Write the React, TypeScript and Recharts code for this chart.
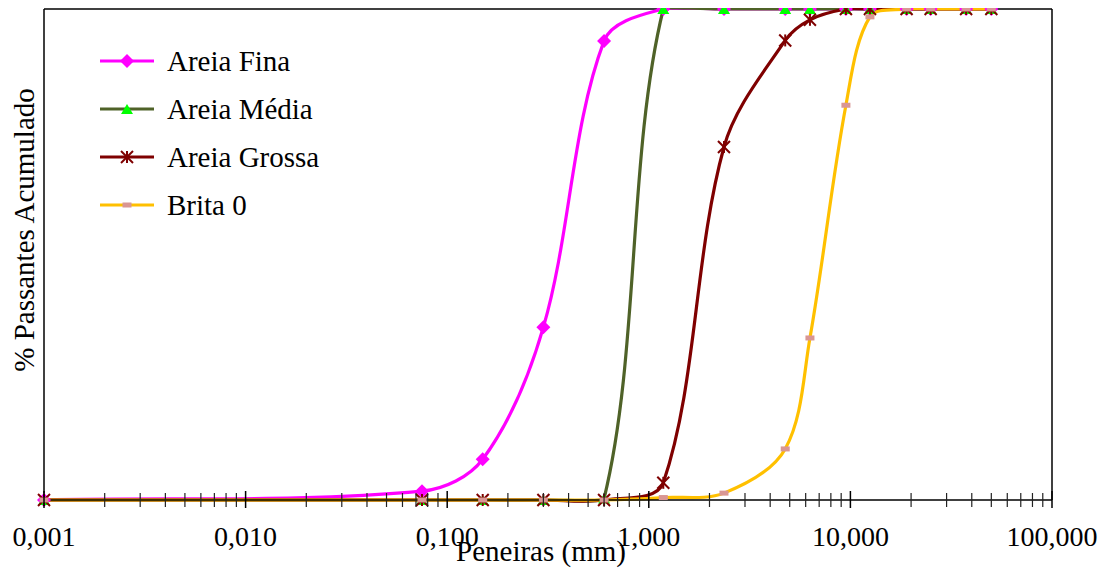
import { Label, Legend, Line, LineChart, ReferenceLine, XAxis, YAxis } from "recharts"

// abertura das peneiras (mm)
const sieves = [0.001, 0.075, 0.15, 0.3, 0.6, 1.18, 2.36, 4.75, 6.3, 9.5, 12.5, 19, 25, 37.5, 50]

// % passante acumulado em cada peneira
const areiaFina = [0, 1.8, 8.3, 35.2, 93.5, 100, 100, 100, 100, 100, 100, 100, 100, 100, 100]
const areiaMedia = [0, 0, 0, 0, 0.3, 100, 100, 100, 100, 100, 100, 100, 100, 100, 100]
const areiaGrossa = [0, 0, 0, 0, 0, 3.5, 71.9, 93.6, 97.8, 100, 100, 100, 100, 100, 100]
const brita0 = [0, 0, 0, 0, 0, 0.5, 1.4, 10.4, 33, 80.4, 98.4, 100, 100, 100, 100]

const majorTicks = [0.001, 0.01, 0.1, 1, 10, 100]
const majorTickLabels = ["0,001", "0,010", "0,100", "1,000", "10,000", "100,000"]
const minorSteps = [2, 3, 4, 5, 6, 7, 8, 9]

const FONT = "Liberation Serif, DejaVu Serif, serif"
const textStyle = { fontFamily: FONT }

const data = sieves.map((sieve, i) => ({
  sieve,
  fina: areiaFina[i],
  media: areiaMedia[i],
  grossa: areiaGrossa[i],
  brita: brita0[i],
}))

const minorTicks = majorTicks
  .slice(0, -1)
  .flatMap((decade) => minorSteps.map((step) => decade * step))
const allTicks = [...majorTicks, ...minorTicks]

type Pt = [number, number]

function dist(a: Pt, b: Pt) {
  return Math.hypot(b[0] - a[0], b[1] - a[1])
}

// segura o ponto de controle perto da faixa vertical do segmento (evita "barriga" grande)
function clampY(y: number, a: number, b: number) {
  const slack = 3
  return Math.min(Math.max(y, Math.min(a, b) - slack), Math.max(a, b) + slack)
}

// suavização no estilo do Excel: bezier com tangentes ponderadas pelo comprimento dos segmentos
function excelSmooth(context: any) {
  let pts: Pt[] = []
  return {
    areaStart() {},
    areaEnd() {},
    lineStart() {
      pts = []
    },
    point(x: number, y: number) {
      pts.push([+x, +y])
    },
    lineEnd() {
      if (pts.length === 0) return
      context.moveTo(pts[0][0], pts[0][1])
      for (let i = 0; i < pts.length - 1; i++) {
        const p0 = pts[i - 1] ?? pts[i]
        const p1 = pts[i]
        const p2 = pts[i + 1]
        const p3 = pts[i + 2] ?? p2
        const d01 = dist(p0, p1)
        const d12 = dist(p1, p2)
        const d23 = dist(p2, p3)
        const w1 = d01 + d12 > 0 ? d12 / (d01 + d12) / 3 : 0
        const w2 = d12 + d23 > 0 ? d12 / (d12 + d23) / 3 : 0
        context.bezierCurveTo(
          p1[0] + (p2[0] - p0[0]) * w1,
          clampY(p1[1] + (p2[1] - p0[1]) * w1, p1[1], p2[1]),
          p2[0] - (p3[0] - p1[0]) * w2,
          clampY(p2[1] - (p3[1] - p1[1]) * w2, p1[1], p2[1]),
          p2[0],
          p2[1]
        )
      }
    },
  }
}

type MarkerProps = { cx: number; cy: number }

function Diamond({ cx, cy }: MarkerProps) {
  const r = 7
  return (
    <polygon
      points={`${cx},${cy - r} ${cx + r},${cy} ${cx},${cy + r} ${cx - r},${cy}`}
      fill="#FF00FF"
    />
  )
}

function Triangle({ cx, cy }: MarkerProps) {
  return (
    <polygon
      points={`${cx},${cy - 5} ${cx + 6},${cy + 5} ${cx - 6},${cy + 5}`}
      fill="#00FF00"
    />
  )
}

function Star({ cx, cy }: MarkerProps) {
  const r = 6
  return (
    <g stroke="#7F0000" strokeWidth={2}>
      <line x1={cx - r} y1={cy - r} x2={cx + r} y2={cy + r} />
      <line x1={cx - r} y1={cy + r} x2={cx + r} y2={cy - r} />
      <line x1={cx} y1={cy - r} x2={cx} y2={cy + r} />
    </g>
  )
}

function Dash({ cx, cy }: MarkerProps) {
  return <rect x={cx - 4.5} y={cy - 2.5} width={9} height={5} fill="#D99694" />
}

const seriesList = [
  { key: "fina", name: "Areia Fina", color: "#FF00FF", Marker: Diamond },
  { key: "media", name: "Areia Média", color: "#4F6228", Marker: Triangle },
  { key: "grossa", name: "Areia Grossa", color: "#7F0000", Marker: Star },
  { key: "brita", name: "Brita 0", color: "#FFC000", Marker: Dash },
]

function SieveTick({ x, y, payload }: any) {
  const major = majorTicks.indexOf(payload.value)
  if (major < 0) {
    return <line x1={x} y1={y - 7} x2={x} y2={y + 7} stroke="#222" strokeWidth={1.2} />
  }
  return (
    <g>
      <line x1={x} y1={y - 9} x2={x} y2={y + 8} stroke="#000" strokeWidth={1.5} />
      <text x={x} y={y + 46} textAnchor="middle" style={textStyle} fontSize={28} fill="#000">
        {majorTickLabels[major]}
      </text>
    </g>
  )
}

function LegendBox() {
  return (
    <svg width={260} height={200}>
      {seriesList.map(({ key, name, color, Marker }, i) => {
        const cy = 24 + 48 * i
        return (
          <g key={key}>
            <line x1={8} y1={cy} x2={62} y2={cy} stroke={color} strokeWidth={3.2} />
            <Marker cx={35} cy={cy} />
            <text x={75} y={cy + 10} style={textStyle} fontSize={29} fill="#000">
              {name}
            </text>
          </g>
        )
      })}
    </svg>
  )
}

export default function App() {
  return (
    <LineChart
      width={1103}
      height={560}
      data={data}
      margin={{ top: 1, right: 59, bottom: 0, left: 0 }}
      style={textStyle}
    >
      <XAxis
        dataKey="sieve"
        type="number"
        scale="log"
        domain={[0.001, 100]}
        ticks={allTicks}
        interval={0}
        tick={<SieveTick />}
        tickLine={false}
        tickSize={0}
        tickMargin={0}
        height={68}
        axisLine={{ stroke: "#000", strokeWidth: 1.5 }}
      >
        <Label
          content={({ viewBox }: any) => (
            <text
              x={viewBox.x + viewBox.width / 2 - 7}
              y={viewBox.y + 61}
              textAnchor="middle"
              style={textStyle}
              fontSize={29}
              fill="#000"
            >
              Peneiras (mm)
            </text>
          )}
        />
      </XAxis>
      <YAxis
        type="number"
        domain={[0, 100]}
        width={36}
        tick={false}
        tickLine={false}
        axisLine={{ stroke: "#000", strokeWidth: 1.5 }}
      >
        <Label
          content={({ viewBox }: any) => {
            const cx = viewBox.x + 16
            const cy = viewBox.y + 221
            return (
              <text
                x={cx}
                y={cy}
                transform={`rotate(-90 ${cx} ${cy})`}
                textAnchor="middle"
                dominantBaseline="central"
                style={textStyle}
                fontSize={29}
                fill="#000"
              >
                % Passantes Acumulado
              </text>
            )
          }}
        />
      </YAxis>
      <ReferenceLine y={100} stroke="#000" strokeWidth={1.5} />
      <ReferenceLine x={100} stroke="#000" strokeWidth={1.5} />
      <Legend
        layout="vertical"
        align="center"
        verticalAlign="middle"
        content={() => <LegendBox />}
        wrapperStyle={{ left: 84, top: 29, width: 260, height: 200 }}
      />
      {seriesList.map(({ key, name, color, Marker }) => (
        <Line
          key={key}
          dataKey={key}
          name={name}
          type={excelSmooth as any}
          stroke={color}
          strokeWidth={3.2}
          dot={(props: any) => <Marker key={`${key}-${props.index}`} cx={props.cx} cy={props.cy} />}
          activeDot={false}
          isAnimationActive={false}
        />
      ))}
    </LineChart>
  )
}
